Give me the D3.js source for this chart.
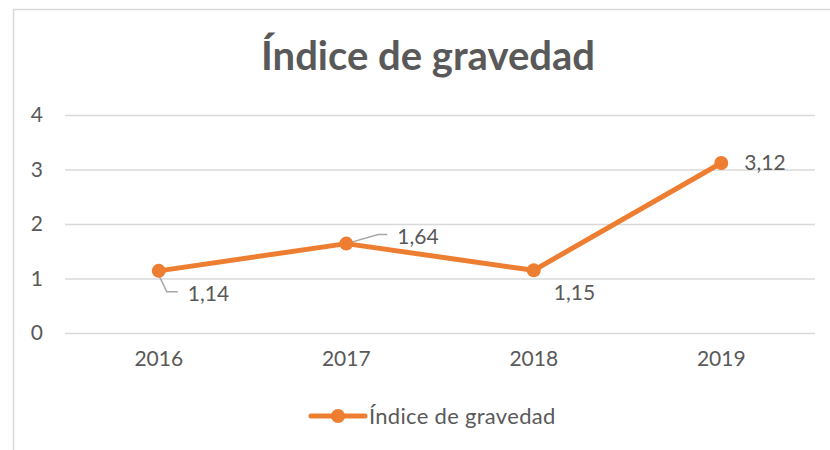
<!DOCTYPE html>
<html>
<head>
<meta charset="utf-8">
<script src="https://cdn.jsdelivr.net/npm/d3@7"></script>
<style>
  html, body { margin: 0; padding: 0; background: #fff; }
  svg { display: block; }
  text { font-family: Lato, "Open Sans", sans-serif; fill: #595959; }
</style>
</head>
<body>
<svg id="chart" width="830" height="450"></svg>
<script>
// Serie anual del índice de gravedad
const years = ["2016", "2017", "2018", "2019"];
const values = [1.14, 1.64, 1.15, 3.12];
const yTicks = [0, 1, 2, 3, 4];
const seriesName = "Índice de gravedad";
const title = "Índice de gravedad";

const orange = "#ED7D31";
const grid = "#d9d9d9";
const fmt = v => v.toFixed(2).replace(".", ",");

const svg = d3.select("#chart");

// Marco del gráfico
svg.append("rect")
  .attr("x", 13.5).attr("y", 9.5)
  .attr("width", 830).attr("height", 460)
  .attr("fill", "#fff").attr("stroke", "#d9d9d9").attr("stroke-width", 1.5);

const plot = { left: 65, right: 815, top: 115, bottom: 333 };

const x = d3.scaleBand().domain(years).range([plot.left, plot.right]);
const y = d3.scaleLinear().domain([0, 4]).range([plot.bottom, plot.top]);

// Título
svg.append("text")
  .attr("x", 428).attr("y", 70)
  .attr("text-anchor", "middle")
  .style("font-size", "40px").style("font-weight", "bold")
  .text(title);

// Líneas de la cuadrícula y etiquetas del eje Y
const yAxis = d3.axisLeft(y).tickValues(yTicks)
  .tickSize(-(plot.right - plot.left)).tickPadding(22)
  .tickFormat(d3.format("d"));
const gy = svg.append("g").attr("transform", `translate(${plot.left},0)`).call(yAxis);
gy.select(".domain").remove();
gy.selectAll(".tick line").attr("stroke", grid).attr("stroke-width", 1.5);
gy.selectAll(".tick text").style("font-size", "21px").attr("fill", "#595959")
  .style("font-family", "Lato, 'Open Sans', sans-serif");

// Etiquetas del eje X
const xAxis = d3.axisBottom(x).tickSize(0).tickPadding(18);
const gx = svg.append("g").attr("transform", `translate(0,${plot.bottom})`).call(xAxis);
gx.select(".domain").remove();
gx.selectAll(".tick text").style("font-size", "21px").attr("fill", "#595959")
  .style("font-family", "Lato, 'Open Sans', sans-serif");

const cx = d => x(d) + x.bandwidth() / 2;
const pts = years.map((yr, i) => ({ yr, v: values[i] }));

// Línea de la serie
svg.append("path")
  .datum(pts)
  .attr("fill", "none").attr("stroke", orange).attr("stroke-width", 5)
  .attr("stroke-linejoin", "round")
  .attr("d", d3.line().x(d => cx(d.yr)).y(d => y(d.v)));

// Líneas guía de las etiquetas de datos
const leaders = [
  { i: 0, pts: [[0, 4], [8, 21], [19, 21]] },
  { i: 1, pts: [[0, 0], [32, -9], [41, -9]] }
];
leaders.forEach(l => {
  const px = cx(years[l.i]), py = y(values[l.i]);
  svg.append("path")
    .attr("fill", "none").attr("stroke", "#a6a6a6").attr("stroke-width", 1.5)
    .attr("d", d3.line()(l.pts.map(p => [px + p[0], py + p[1]])));
});

// Marcadores
svg.selectAll("circle.pt").data(pts).enter().append("circle")
  .attr("class", "pt")
  .attr("cx", d => cx(d.yr)).attr("cy", d => y(d.v))
  .attr("r", 7).attr("fill", orange);

// Etiquetas de datos (desplazamiento respecto al marcador)
const labelOffsets = [[29, 30], [51, 0], [20, 30], [23, 7]];
svg.selectAll("text.lbl").data(pts).enter().append("text")
  .attr("class", "lbl")
  .attr("x", (d, i) => cx(d.yr) + labelOffsets[i][0])
  .attr("y", (d, i) => y(d.v) + labelOffsets[i][1])
  .style("font-size", "21px")
  .text(d => fmt(d.v));

// Leyenda
const lg = svg.append("g");
lg.append("line").attr("x1", 311).attr("x2", 365).attr("y1", 416).attr("y2", 416)
  .attr("stroke", orange).attr("stroke-width", 5).attr("stroke-linecap", "round");
lg.append("circle").attr("cx", 338).attr("cy", 416).attr("r", 7).attr("fill", orange);
lg.append("text").attr("x", 369).attr("y", 424).style("font-size", "22px")
  .style("letter-spacing", "0.3px").text(seriesName);
</script>
</body>
</html>
